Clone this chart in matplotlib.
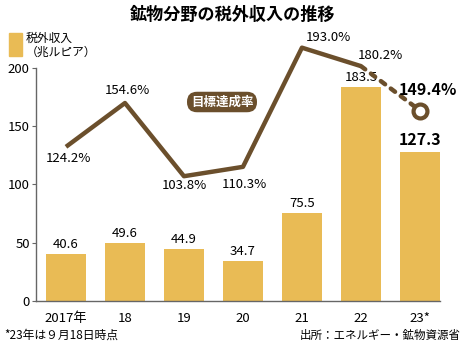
import numpy as np
import matplotlib
matplotlib.use("Agg")
import matplotlib.pyplot as plt
from matplotlib.patches import Rectangle

plt.rcParams['font.family'] = ['Noto Sans CJK JP', 'DejaVu Sans']

# data
years = ['2017年', '18', '19', '20', '21', '22', '23*']
revenue = [40.6, 49.6, 44.9, 34.7, 75.5, 183.5, 127.3]   # 兆ルピア
rate = [124.2, 154.6, 103.8, 110.3, 193.0, 180.2, 149.4]  # 目標達成率 %

bar_col = '#e9bb55'
line_col = '#6b4f2c'

fig = plt.figure(figsize=(4.65, 3.44), dpi=100)
ax = fig.add_axes([36/465, 43/344, 404/465, 266/344])
x = np.arange(len(years))

ax.bar(x, revenue, width=0.68, color=bar_col, zorder=2)
ax.set_xlim(-0.508, 6.34)
ax.set_ylim(0, 228)
ax.set_yticks([0, 50, 100, 150, 200])
ax.spines['top'].set_visible(False)
ax.spines['right'].set_visible(False)
ax.spines['left'].set_bounds(0, 200)
for s in ('left', 'bottom'):
    ax.spines[s].set_color('#666666')
    ax.spines[s].set_linewidth(1.0)
ax.tick_params(axis='y', length=3, color='#666666', labelsize=9.5, pad=1.5)
ax.tick_params(axis='x', length=0, labelsize=9.5, pad=8)
ax.set_xticks(x)
ax.set_xticklabels(years)

# bar values
for i, v in enumerate(revenue):
    if i == len(revenue) - 1:
        ax.annotate(f'{v:.1f}', (x[i], v), xytext=(0, 3), textcoords='offset points',
                    ha='center', va='bottom', fontsize=11.5, fontweight='bold')
    else:
        ax.annotate(f'{v:.1f}', (x[i], v), xytext=(0, 2), textcoords='offset points',
                    ha='center', va='bottom', fontsize=9.5)

# achievement rate on a second scale
ax2 = ax.twinx()
ax2.set_ylim(17.2, 201.8)
ax2.axis('off')
ax2.plot(x[:-1], rate[:-1], color=line_col, lw=3.2, solid_capstyle='butt', zorder=3)
ax2.plot(x[-2:], rate[-2:], color=line_col, lw=3.2, ls=(0, (1.2, 1.6)),
         dash_capstyle='round', zorder=3)
ax2.plot(x[-1], rate[-1], 'o', ms=10, mfc='white', mec=line_col, mew=3, zorder=4)

offsets = [(2, -4, 'top'), (2, 4, 'bottom'), (0, -2, 'top'), (1, -8, 'top'),
           (19, 3, 'bottom'), (14, 3, 'bottom'), (6, 9, 'bottom')]
for i, (p, (dx, dy, va)) in enumerate(zip(rate, offsets)):
    last = i == len(rate) - 1
    ax2.annotate(f'{p:.1f}%', (x[i], p), xytext=(dx, dy), textcoords='offset points',
                 ha='center', va=va, fontsize=11.5 if last else 9.5,
                 fontweight='bold' if last else 'normal', zorder=5)

# series tag
fig.text(222/465, 1 - 102/344, '目標達成率', ha='center', va='center', color='white',
         fontsize=9, fontweight='bold',
         bbox=dict(boxstyle='round,pad=0.3,rounding_size=0.8', fc=line_col, ec='none'))

# title and legend
fig.text(0.5, 1 - 15/344, '鉱物分野の税外収入の推移', ha='center', va='center',
         fontsize=12.3, fontweight='bold')
fig.patches.append(Rectangle((9/465, 1 - 56/344), 13/465, 23/344,
                             transform=fig.transFigure, color=bar_col))
fig.text(26/465, 1 - 45/344, '税外収入\n（兆ルピア）', ha='left', va='center',
         fontsize=8.5, linespacing=1.1)

# footnotes
fig.text(4/465, 1 - 335/344, '*23年は９月18日時点', ha='left', va='center', fontsize=8.5)
fig.text(461/465, 1 - 335/344, '出所：エネルギー・鉱物資源省', ha='right', va='center', fontsize=8.3)

fig.savefig('out.png', dpi=100)
